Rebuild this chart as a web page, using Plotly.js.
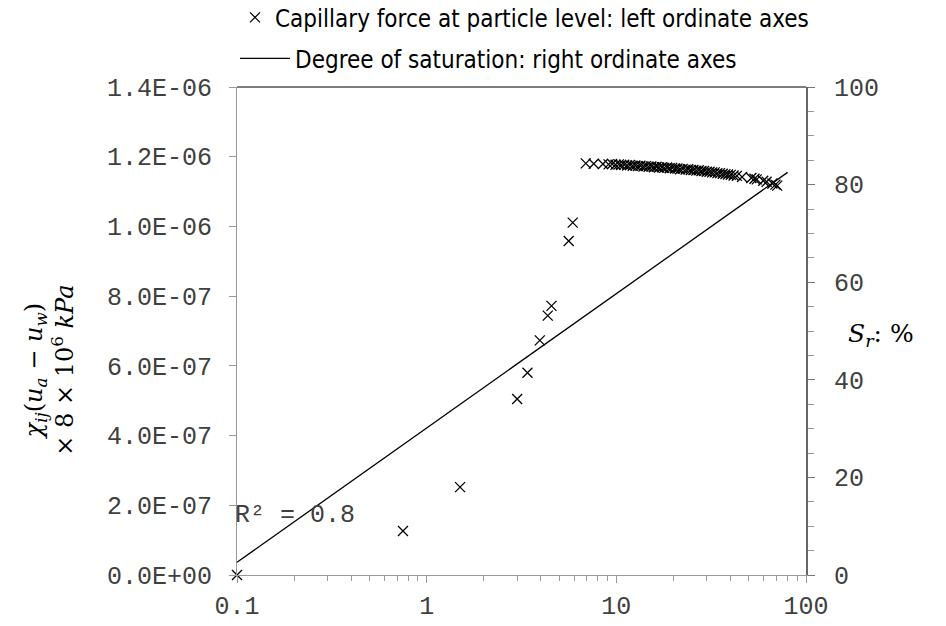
<!DOCTYPE html>
<html>
<head>
<meta charset="utf-8">
<script src="https://cdn.plot.ly/plotly-3.0.1.min.js"></script>
<style>html,body{margin:0;padding:0;background:#fff;}#chart{width:946px;height:626px;}</style>
</head>
<body>
<div id="chart"></div>
<script>
// Capillary force at particle level (left axis)
const forceX = [0.1, 0.75, 1.5, 3.0, 3.4, 3.95, 4.35, 4.55, 5.61, 5.89,
  6.9, 7.6, 8.5, 9.1, 9.5, 9.9, 10.3, 10.6, 11.0, 11.4, 11.8, 12.2, 12.6, 13.0, 13.4, 13.9, 14.3, 14.8, 15.3, 15.8,
  16.3, 16.8, 17.4, 17.9, 18.5, 19.1, 19.7, 20.4, 21.0, 21.7, 22.4, 23.2, 23.9, 24.7, 25.5, 26.4, 27.2, 28.1, 29.0, 30.0,
  31.0, 32.0, 33.0, 34.1, 35.2, 36.4, 37.6, 38.8, 40.1, 41.5, 43.2, 46.0, 51.5, 53.5, 55.0, 59.5, 62.0, 66.5, 69.0, 70.5];
const forceY = [0, 1.26e-7, 2.52e-7, 5.05e-7, 5.80e-7, 6.73e-7, 7.44e-7, 7.72e-7, 9.58e-7, 1.011e-6,
  1.181e-6, 1.180e-6, 1.179e-6, 1.178e-6, 1.179e-6, 1.177e-6, 1.178e-6, 1.176e-6, 1.177e-6, 1.175e-6, 1.176e-6, 1.174e-6, 1.175e-6, 1.173e-6, 1.174e-6, 1.172e-6, 1.173e-6, 1.171e-6, 1.172e-6, 1.170e-6,
  1.171e-6, 1.169e-6, 1.170e-6, 1.168e-6, 1.169e-6, 1.167e-6, 1.168e-6, 1.166e-6, 1.166e-6, 1.164e-6, 1.165e-6, 1.163e-6, 1.164e-6, 1.162e-6, 1.162e-6, 1.160e-6, 1.161e-6, 1.159e-6, 1.159e-6, 1.157e-6,
  1.157e-6, 1.155e-6, 1.155e-6, 1.153e-6, 1.153e-6, 1.151e-6, 1.150e-6, 1.149e-6, 1.148e-6, 1.146e-6, 1.145e-6, 1.142e-6, 1.139e-6, 1.137e-6, 1.135e-6, 1.131e-6, 1.128e-6, 1.123e-6, 1.120e-6, 1.117e-6];

// Degree of saturation trend (right axis)
const satX = [0.1, 80];
const satY = [2.6, 82.5];

// Tick labels
const xTickVals = [0.1, 1, 10, 100];
const xTickText = ['0.1', '1', '10', '100'];
const yTickVals = [0, 2e-7, 4e-7, 6e-7, 8e-7, 1.0e-6, 1.2e-6, 1.4e-6];
const yTickText = ['0.0E+00', '2.0E-07', '4.0E-07', '6.0E-07', '8.0E-07', '1.0E-06', '1.2E-06', '1.4E-06'];
const y2TickVals = [0, 20, 40, 60, 80, 100];
const y2TickText = ['0', '20', '40', '60', '80', '100'];

const mono = 'Liberation Mono, Courier New, monospace';
const serif = 'DejaVu Serif, Liberation Serif, serif';
const narrow = 'DejaVu Sans Condensed, Liberation Sans Narrow, Liberation Sans, sans-serif';

const traces = [
  {
    x: forceX, y: forceY, type: 'scatter', mode: 'markers', cliponaxis: false,
    name: 'Capillary force at particle level: left ordinate axes',
    marker: {symbol: 'x-thin-open', size: 10, color: '#000', line: {color: '#000', width: 1.3}},
    xaxis: 'x', yaxis: 'y', legend: 'legend'
  },
  {
    x: satX, y: satY, type: 'scatter', mode: 'lines',
    name: 'Degree of saturation: right ordinate axes',
    line: {color: '#000', width: 1.3},
    xaxis: 'x', yaxis: 'y2', legend: 'legend2'
  }
];

const layout = {
  width: 946, height: 626,
  margin: {l: 237, r: 140, t: 87, b: 51, autoexpand: false},
  paper_bgcolor: '#fff', plot_bgcolor: '#fff',
  showlegend: true,
  legend: {x: -0.0035, xanchor: 'left', y: 1.188, yanchor: 'top', bgcolor: 'rgba(0,0,0,0)',
    font: {family: narrow, size: 24, color: '#000'}},
  legend2: {x: -0.0035, xanchor: 'left', y: 1.104, yanchor: 'top', bgcolor: 'rgba(0,0,0,0)',
    itemwidth: 50,
    font: {family: narrow, size: 24, color: '#000'}},
  xaxis: {
    type: 'log', range: [-1, 2],
    tickvals: xTickVals, ticktext: xTickText,
    ticks: 'outside', ticklen: 7, tickcolor: '#999', tickwidth: 1,
    showline: true, linecolor: '#999', linewidth: 1,
    showgrid: false, zeroline: false,
    tickfont: {family: mono, size: 25, color: '#404040'},
    ticklabelstandoff: 1,
    minor: {ticks: 'outside', ticklen: 5, tickcolor: '#999', showgrid: false,
      tickvals: [0.2,0.3,0.4,0.5,0.6,0.7,0.8,0.9,2,3,4,5,6,7,8,9,20,30,40,50,60,70,80,90]}
  },
  yaxis: {
    range: [0, 1.4e-6],
    tickvals: yTickVals, ticktext: yTickText,
    ticks: 'outside', ticklen: 7, tickcolor: '#999',
    showline: true, linecolor: '#999', linewidth: 1,
    showgrid: false, zeroline: false,
    tickfont: {family: mono, size: 25, color: '#404040'},
    ticklabelstandoff: 12
  },
  yaxis2: {
    range: [0, 100], overlaying: 'y', side: 'right',
    tickvals: y2TickVals, ticktext: y2TickText,
    ticks: 'outside', ticklen: 7, tickcolor: '#777',
    showline: true, linecolor: '#666', linewidth: 2,
    showgrid: false, zeroline: false,
    tickfont: {family: mono, size: 25, color: '#404040'},
    ticklabelstandoff: 14,
    minor: {ticks: 'outside', ticklen: 6, tickcolor: '#999', dtick: 5, showgrid: false}
  },
  shapes: [
    {type: 'line', xref: 'paper', yref: 'paper', x0: 0, x1: 1, y0: 1, y1: 1, line: {color: '#000', width: 1}}
  ],
  annotations: [
    {xref: 'paper', yref: 'paper', x: -0.331, y: 0.42, xanchor: 'center', yanchor: 'middle',
      textangle: -90, showarrow: false,
      text: '<i>χ<sub>ij</sub></i>(<i>u<sub>a</sub></i> − <i>u<sub>w</sub></i>)<br>× 8 × 10<sup>6</sup> <i>kPa</i>',
      font: {family: serif, size: 24, color: '#000'}},
    {xref: 'paper', yref: 'paper', x: 1.132, y: 0.492, xanchor: 'center', yanchor: 'middle', showarrow: false,
      text: '<i>S<sub>r</sub></i>: %', font: {family: serif, size: 25, color: '#000'}},
    {xref: 'paper', yref: 'paper', x: -0.007, xanchor: 'left', y: 0.121, yanchor: 'middle', showarrow: false,
      text: 'R² = 0.8', font: {family: mono, size: 25, color: '#404040'}}
  ]
};

Plotly.newPlot('chart', traces, layout, {staticPlot: true, displayModeBar: false});
</script>
</body>
</html>
